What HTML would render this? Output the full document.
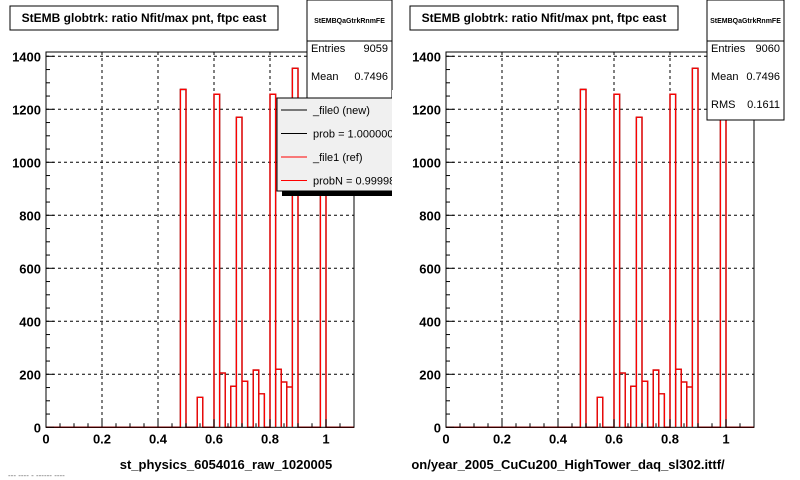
<!DOCTYPE html>
<html><head><meta charset="utf-8"><style>
body{margin:0;background:#fff;}
svg{display:block;font-family:"Liberation Sans",Arial,sans-serif;}
</style></head><body>
<svg id="c" width="800" height="480" viewBox="0 0 800 480"></svg>
<script>
const binStarts=[0.48,0.54,0.60,0.62,0.66,0.68,0.70,0.74,0.76,0.80,0.82,0.84,0.86,0.88,0.98];
const redCounts=[1275,113,1257,205,155,1170,174,216,126,1257,219,171,152,1355,1300];
const blackCounts=[1275,113,1257,205,155,1170,174,216,126,1257,219,171,152,1355,1300];
const binWidth=0.02;
const yTicks=[0,200,400,600,800,1000,1200,1400];
const xTicks=[0,0.2,0.4,0.6,0.8,1];
const xTickLabels=["0","0.2","0.4","0.6","0.8","1"];
const NS="http://www.w3.org/2000/svg";
const svg=document.getElementById('c');
function mk(tag,attrs,parent){const e=document.createElementNS(NS,tag);for(const k in attrs)e.setAttribute(k,attrs[k]);(parent||svg).appendChild(e);return e;}
function panel(px,xTitle,stats,showLegend,name,titleCx,statW){
  const g=mk('g',{});
  
  
  const L=px,R=px+308,T=52,B=427.3;
  const xs=v=>L+v*280, ys=v=>B-v*53/200;
  for(const t of xTicks){ if(t===0) continue; const l=mk('line',{x1:xs(t),x2:xs(t),y1:T,y2:B,stroke:'#000','stroke-dasharray':'3,3','stroke-width':1},g);  }
  for(const t of yTicks){ if(t===0) continue; const l=mk('line',{x1:L,x2:R,y1:ys(t),y2:ys(t),stroke:'#000','stroke-dasharray':'3,3','stroke-width':1},g);  }
  function hist(counts,color,nm){
    let d='M'+L+','+B;
    for(let i=0;i<binStarts.length;i++){
      const x1=xs(binStarts[i]),x2=xs(binStarts[i]+binWidth),y=ys(counts[i]);
      d+=' L'+x1+','+B+' L'+x1+','+y+' L'+x2+','+y+' L'+x2+','+B;
    }
    d+=' L'+R+','+B;
    const p=mk('path',{d:d,fill:'none',stroke:color,'stroke-width':1.3},g);
    
    
  }
  hist(blackCounts,'#000','histogram-new');
  hist(redCounts,'#f00','histogram-ref');
  const fr=mk('rect',{x:L,y:T,width:R-L,height:B-T,fill:'none',stroke:'#000','stroke-width':1},g);
  
  for(let v=0;v<=1.1001;v+=0.05){const big=Math.abs(v*5-Math.round(v*5))<1e-6;mk('line',{x1:xs(v),x2:xs(v),y1:B,y2:B-(big?8:4),stroke:'#000'},g);}
  for(let v=0;v<=1420;v+=50){const big=v%200===0;mk('line',{x1:L,x2:L+(big?8:4),y1:ys(v),y2:ys(v),stroke:'#000'},g);}
  xTicks.forEach((t,i)=>{const tx=mk('text',{x:xs(t),y:B+16,'text-anchor':'middle','font-size':13,'font-weight':'bold'},g);tx.textContent=xTickLabels[i];});
  yTicks.forEach(t=>{const tx=mk('text',{x:L-5,y:ys(t)+5,'text-anchor':'end','font-size':13,'font-weight':'bold'},g);tx.textContent=String(t);});
  const tb=mk('rect',{x:px-36,y:6,width:268,height:24,fill:'#fff',stroke:'#000'},g);
  
  const tt=mk('text',{x:px-36+134,y:22,'text-anchor':'middle','font-size':12,'font-weight':'bold'},g);
  tt.textContent='StEMB globtrk: ratio Nfit/max pnt, ftpc east';
  
  const xt=mk('text',{x:titleCx,y:469,'text-anchor':'middle','font-size':13,'font-weight':'bold'},g);
  xt.textContent=xTitle;
  const sx=px+261,sw=statW;
  const sb=mk('rect',{x:sx,y:0,width:sw,height:120,fill:'#fff',stroke:'#000'},g);
  
  mk('line',{x1:sx,x2:sx+sw,y1:41,y2:41,stroke:'#000'},g);
  const sh=mk('text',{x:sx+sw/2,y:23,'text-anchor':'middle','font-size':7,'font-weight':'bold'},g);sh.textContent='StEMBQaGtrkRnmFE';
  const rows=[['Entries',stats[0]],['Mean','0.7496'],['RMS','0.1611']];
  rows.forEach((r,i)=>{const a=mk('text',{x:sx+4,y:52+i*28,'font-size':11},g);a.textContent=r[0];const b=mk('text',{x:sx+sw-4,y:52+i*28,'font-size':11,'text-anchor':'end'},g);b.textContent=r[1];});
  if(showLegend){
    const lg=mk('g',{},g);
    mk('rect',{x:282,y:103,width:120,height:93,fill:'#000'},lg);
    mk('rect',{x:277,y:98,width:120,height:93,fill:'#f0f0f0',stroke:'#000'},lg);
    const ents=[['_file0 (new)','#000'],['prob = 1.000000','#000'],['_file1 (ref)','#f00'],['probN = 0.999986','#f00']];
    ents.forEach((e,i)=>{const y=110+i*23.5;mk('line',{x1:281,x2:307,y1:y,y2:y,stroke:e[1],'stroke-width':1},lg);const t=mk('text',{x:313,y:y+4,'font-size':11},lg);t.textContent=e[0];});
  }
}
panel(46,'st_physics_6054016_raw_1020005',['9059'],true,'left-panel',226,85);
const cov=mk('rect',{x:392,y:90,width:20,height:110,fill:'#fff'});

panel(446,'on/year_2005_CuCu200_HighTower_daq_sl302.ittf/',['9060'],false,'right-panel',568,77);
const ft=mk('text',{x:8,y:478,'font-size':8,fill:'#666'});ft.textContent='--- ---- - ------ ----';

</script>
</body></html>
